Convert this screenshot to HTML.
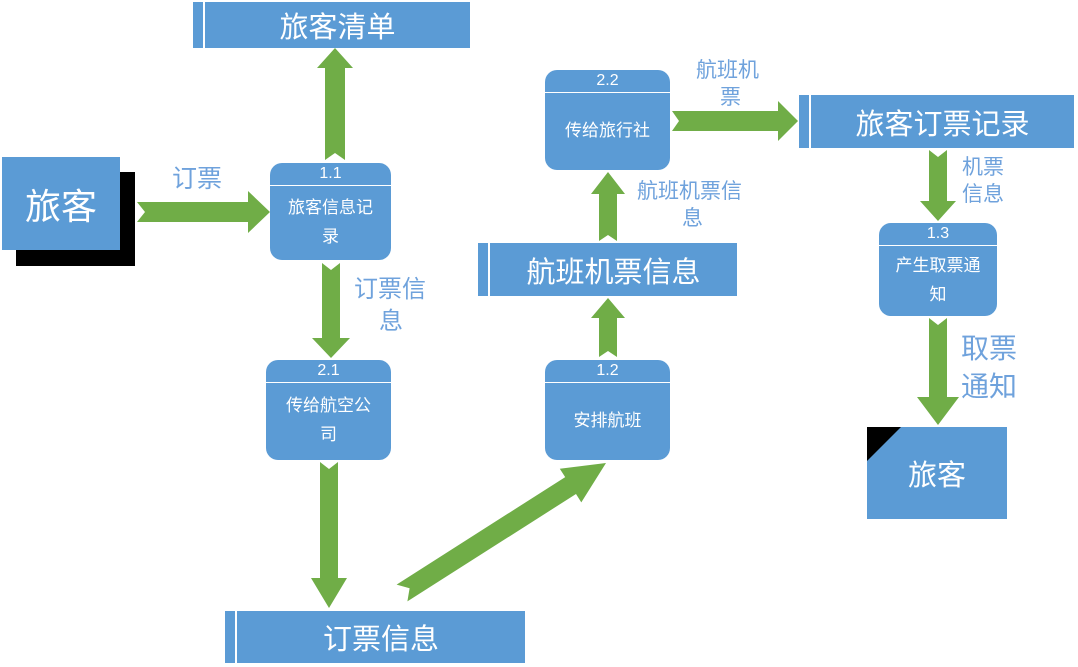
<!DOCTYPE html>
<html><head><meta charset="utf-8"><style>
body{margin:0;width:1078px;height:667px;background:#fff;position:relative;overflow:hidden;font-family:"Liberation Sans","Noto Sans CJK SC",sans-serif}
.b{position:absolute;background:#5b9bd5;color:#fff;box-sizing:border-box}
.store{border-left:none}
.store .s{position:absolute;left:10px;top:0;bottom:0;width:2px;background:#fff}
.store .t{position:absolute;left:12px;right:0;top:0;bottom:0;display:flex;align-items:center;justify-content:center;font-size:29px}
.proc{border-radius:12px}
.proc .h{position:absolute;left:0;right:0;top:0;height:22px;border-bottom:1.5px solid #fff;text-align:center;font-size:16px;line-height:22px}
.proc .c{position:absolute;left:4px;right:4px;top:24px;bottom:4px;display:flex;align-items:center;justify-content:center;text-align:center;font-size:17px;line-height:29px}
.lab{position:absolute;color:#6fa2dc;line-height:1.35}
</style></head><body>
<svg width="1078" height="667" style="position:absolute;left:0;top:0" id="sv"></svg>

<div class="b store" style="left:193px;top:2px;width:277px;height:46px"><div class="s"></div><div class="t">旅客清单</div></div>
<div class="b store" style="left:478px;top:243px;width:259px;height:53px"><div class="s"></div><div class="t">航班机票信息</div></div>
<div class="b store" style="left:799px;top:95px;width:275px;height:53px"><div class="s"></div><div class="t">旅客订票记录</div></div>
<div class="b store" style="left:225px;top:611px;width:300px;height:52px"><div class="s"></div><div class="t">订票信息</div></div>

<div style="position:absolute;left:16px;top:172px;width:119px;height:94px;background:#000"></div>
<div class="b" style="left:2px;top:157px;width:118px;height:93px;display:flex;align-items:center;justify-content:center;font-size:36px">旅客</div>

<div class="b" style="left:867px;top:427px;width:140px;height:92px;display:flex;align-items:center;justify-content:center;font-size:29px">旅客</div>
<svg width="40" height="40" style="position:absolute;left:867px;top:427px"><polygon points="0,0 34,0 0,34" fill="#000"/></svg>

<div class="b proc" style="left:270px;top:163px;width:121px;height:97px"><div class="h">1.1</div><div class="c">旅客信息记<br>录</div></div>
<div class="b proc" style="left:266px;top:360px;width:125px;height:100px"><div class="h">2.1</div><div class="c">传给航空公<br>司</div></div>
<div class="b proc" style="left:545px;top:360px;width:125px;height:100px"><div class="h">1.2</div><div class="c">安排航班</div></div>
<div class="b proc" style="left:545px;top:70px;width:125px;height:100px"><div class="h">2.2</div><div class="c">传给旅行社</div></div>
<div class="b proc" style="left:879px;top:223px;width:118px;height:93px"><div class="h">1.3</div><div class="c">产生取票通<br>知</div></div>

<div class="lab" style="left:172px;top:163px;font-size:25px">订票</div>
<div class="lab" style="left:354px;top:274px;font-size:24px">订票信<br><span style="margin-left:25px">息</span></div>
<div class="lab" style="left:637px;top:178px;font-size:21px;line-height:1.3">航班机票信<br><span style="margin-left:45px">息</span></div>
<div class="lab" style="left:696px;top:57px;font-size:21px;line-height:1.3">航班机<br><span style="margin-left:24px">票</span></div>
<div class="lab" style="left:962px;top:154px;font-size:21px;line-height:1.3">机票<br>信息</div>
<div class="lab" style="left:961px;top:330px;font-size:28px;line-height:1.35">取票<br>通知</div>

<script>
var sv=document.getElementById('sv');
function arr(x1,y1,x2,y2,w,hw,hl,n){
 var dx=x2-x1,dy=y2-y1,L=Math.hypot(dx,dy),ux=dx/L,uy=dy/L,px=-uy,py=ux;
 function p(a,b){return (x1+ux*a+px*b).toFixed(1)+','+(y1+uy*a+py*b).toFixed(1)}
 var s=L-hl;
 var pts=[p(0,w/2),p(s,w/2),p(s,hw/2),p(L,0),p(s,-hw/2),p(s,-w/2),p(0,-w/2),p(n,0)].join(' ');
 var e=document.createElementNS('http://www.w3.org/2000/svg','polygon');
 e.setAttribute('points',pts);e.setAttribute('fill','#70ad47');sv.appendChild(e);
}
arr(137,212,270,212,20,42,22,8);
arr(335,160,335,48,20,36,20,7);
arr(331,263,331,358,18,38,20,7);
arr(329,462,329,608,18,36,30,7);
arr(402,593,606,463,20,40,42,9);
arr(608,357,608,298,18,34,20,6);
arr(608,241,608,172,18,34,22,6);
arr(672,121,798,121,20,40,20,7);
arr(938,150,938,221,18,36,20,7);
arr(938,318,938,425,18,42,28,7);
</script>
</body></html>
